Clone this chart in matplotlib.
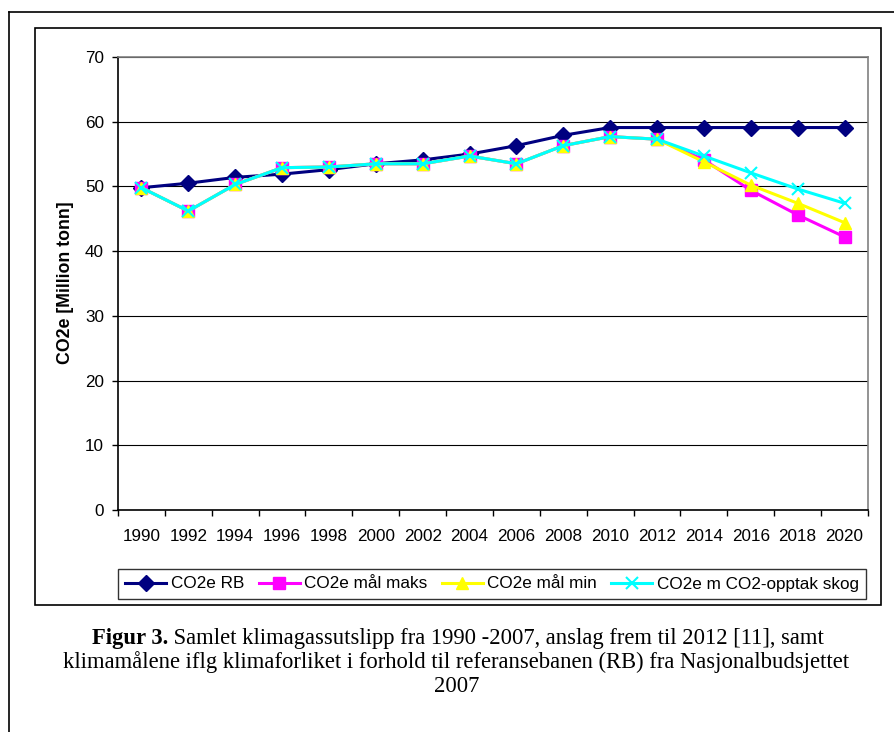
import numpy as np
import matplotlib.pyplot as plt
from matplotlib.lines import Line2D
from matplotlib.patches import Rectangle

# data
years = ['1990', '1992', '1994', '1996', '1998', '2000', '2002', '2004',
         '2006', '2008', '2010', '2012', '2014', '2016', '2018', '2020']
rb = [49.8, 50.5, 51.4, 51.9, 52.6, 53.5, 54.1, 55.0,
      56.3, 57.9, 59.1, 59.1, 59.1, 59.1, 59.1, 59.1]
maal_maks = [49.8, 46.2, 50.3, 52.9, 53.0, 53.5, 53.5, 54.7,
             53.5, 56.3, 57.7, 57.3, 54.1, 49.4, 45.6, 42.2]
maal_min = [49.8, 46.2, 50.3, 52.9, 53.0, 53.5, 53.5, 54.7,
            53.5, 56.3, 57.7, 57.3, 53.8, 50.2, 47.4, 44.4]
skog = [49.8, 46.2, 50.3, 52.9, 53.0, 53.5, 53.5, 54.7,
        53.5, 56.3, 57.7, 57.3, 54.7, 52.1, 49.6, 47.4]
labels = ['CO2e RB', 'CO2e mål maks', 'CO2e mål min', 'CO2e m CO2-opptak skog']

W, H = 895, 732
fig = plt.figure(figsize=(W / 100, H / 100), dpi=100)
fig.patch.set_facecolor('white')

def fx(px):
    return px / W

def fy(py):
    return 1 - py / H

# rammer
fig.add_artist(Line2D([fx(8.5), 1], [fy(11.5), fy(11.5)], color='black', lw=1.2))
fig.add_artist(Line2D([fx(8.5), fx(8.5)], [fy(11.5), 0], color='black', lw=1.2))
fig.add_artist(Rectangle((fx(35), fy(605)), fx(881) - fx(35), fy(28) - fy(605),
                         fill=False, ec='black', lw=1.2, transform=fig.transFigure))

ax = fig.add_axes([fx(118), fy(510), fx(868) - fx(118), fy(57) - fy(510)])
x = np.arange(len(years))

ax.plot(x, rb, color='#000080', lw=2.2, marker='D', ms=8, label=labels[0], zorder=3)
ax.plot(x, maal_maks, color='#FF00FF', lw=2.2, marker='s', ms=8, label=labels[1], zorder=4)
ax.plot(x, maal_min, color='#FFFF00', lw=2.2, marker='^', ms=9, label=labels[2], zorder=5)
ax.plot(x, skog, color='#00FFFF', lw=2.2, marker='x', ms=9, mew=1.5, label=labels[3], zorder=6)

ax.set_xlim(-0.5, len(years) - 0.5)
ax.set_ylim(0, 70)
ax.set_yticks(range(0, 71, 10))
ax.yaxis.grid(True, color='black', lw=0.8)
ax.set_axisbelow(True)

ax.set_xticks(x)
ax.set_xticklabels(years)
ax.set_xticks(np.arange(-0.5, len(years), 1), minor=True)
ax.tick_params(axis='x', which='major', length=0, pad=14)
ax.tick_params(axis='x', which='minor', length=4, direction='out', width=1)
ax.tick_params(axis='y', length=4, direction='out', width=1, pad=6)
for lab in ax.get_xticklabels() + ax.get_yticklabels():
    lab.set_fontfamily('Liberation Sans')
    lab.set_fontsize(12.3)

for s in ['left', 'bottom']:
    ax.spines[s].set_color('black')
    ax.spines[s].set_linewidth(1.2)
for s in ['top', 'right']:
    ax.spines[s].set_color('#808080')
    ax.spines[s].set_linewidth(1.2)

fig.text(fx(65), fy(283), 'CO2e [Million tonn]', rotation=90, ha='center', va='center',
         family='Liberation Sans', fontweight='bold', fontsize=12.8)

leg = fig.legend(loc='center', bbox_to_anchor=(fx(492), fy(584)), ncol=4,
                 prop={'family': 'Liberation Sans', 'size': 12.3},
                 frameon=True, fancybox=False, edgecolor='black',
                 handlelength=2.4, handletextpad=0.25, columnspacing=0.85,
                 borderpad=0.45, borderaxespad=0)
leg.get_frame().set_linewidth(1.0)

# figurtekst
cap_size = 16.3
serif = 'Liberation Serif'
t_bold = fig.text(0, fy(644), 'Figur 3.', family=serif, fontweight='bold',
                  fontsize=cap_size, va='baseline', ha='left')
t_rest = fig.text(0, fy(644), ' Samlet klimagassutslipp fra 1990 -2007, anslag frem til 2012 [11], samt',
                  family=serif, fontsize=cap_size, va='baseline', ha='left')
fig.canvas.draw()
r = fig.canvas.get_renderer()
wb = t_bold.get_window_extent(r).width
wr = t_rest.get_window_extent(r).width
x0 = 458 - (wb + wr) / 2
t_bold.set_x(fx(x0))
t_rest.set_x(fx(x0 + wb))
fig.text(fx(456), fy(668), 'klimamålene iflg klimaforliket i forhold til referansebanen (RB) fra Nasjonalbudsjettet',
         family=serif, fontsize=cap_size, va='baseline', ha='center')
fig.text(fx(457), fy(692), '2007', family=serif, fontsize=cap_size, va='baseline', ha='center')

fig.savefig('out.png', dpi=100)
